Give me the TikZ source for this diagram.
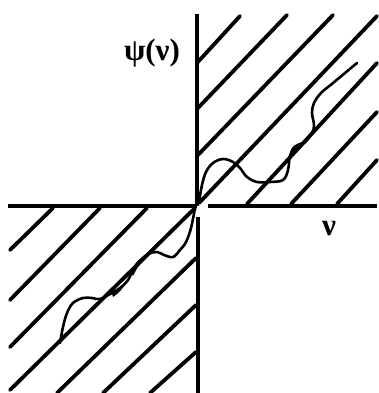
\documentclass[tikz,border=0pt]{standalone}
\usepackage{fontspec}
\setmainfont{Liberation Serif}
\begin{document}
\begin{tikzpicture}[x=1pt,y=-1pt,
  axis/.style={line width=3.8pt},
  hatch/.style={line width=3.8pt,line cap=round},
  wig/.style={line width=2.6pt,line cap=round,line join=round},
  lbl/.style={font=\fontsize{31}{31}\selectfont\bfseries,inner sep=0pt}]
\useasboundingbox (0,0) rectangle (378,393);
% axes
\coordinate (O) at (197,206);
\coordinate (ytop) at (197,14);
\coordinate (ybot) at (198,393);
\coordinate (ybotstart) at (198,217);
\coordinate (xleft) at (8,206);
\coordinate (xright) at (377,206);
\coordinate (xrightstart) at (208,206);
\draw[axis] (ytop) -- (O);
\draw[axis] (ybotstart) -- (ybot);
\draw[axis] (xleft) -- (O);
\draw[axis] (xrightstart) -- (xright);
% hatching quadrant I
\draw[hatch] (197,63) -- (240,16);
\draw[hatch] (197,109) -- (287,15);
\draw[hatch] (197,156) -- (333,15);
\draw[hatch] (199,203) -- (377,16);
\draw[hatch] (247,204) -- (377,63);
\draw[hatch] (291,204) -- (377,112);
\draw[hatch] (337,204) -- (377,160);
% hatching quadrant III
\draw[hatch] (53,208) -- (10,250);
\draw[hatch] (100,208) -- (10,300);
\draw[hatch] (147,208) -- (10,347);
\draw[hatch] (195,208) -- (10,390);
\draw[hatch] (196,258) -- (57,393);
\draw[hatch] (196,305) -- (103,393);
\draw[hatch] (196,352) -- (150,393);
% wiggly curve QI
\draw[wig] plot[smooth,tension=0.6] coordinates {(199,202) (202,185) (206,172) (213,163) (223,159) (233,162) (240,168) (247,177) (257,182) (270,182) (283,180) (288,170) (290,156) (295,147) (304,143) (312,133) (314,125) (312,113) (314,103) (321,93) (333,83) (357,63)};
\fill (290,153) .. controls (291,146) and (296,144) .. (302,142) .. controls (297,147) and (294,150) .. (291,159) -- cycle;
% wiggly curve QIII
\draw[wig] plot[smooth,tension=0.6] coordinates {(195,208) (191,228) (186,242) (180,250) (173,257) (164,255) (157,252) (148,254) (141,260) (134,268) (128,280) (120,288) (110,294) (100,299) (92,298) (83,298) (73,303) (67,313) (63,327) (60,343)};
\fill (131,272) .. controls (135,262) and (140,258) .. (146,255) .. controls (141,262) and (137,268) .. (133,276) -- cycle;
\fill (112,294) .. controls (118,290) and (122,287) .. (127,280) .. controls (124,288) and (119,293) .. (113,297) -- cycle;
% labels
\node[lbl] (psi) at (152,53) {ψ(ν)};
\node[lbl] (nu) at (329,229) {ν};
\end{tikzpicture}
\end{document}
